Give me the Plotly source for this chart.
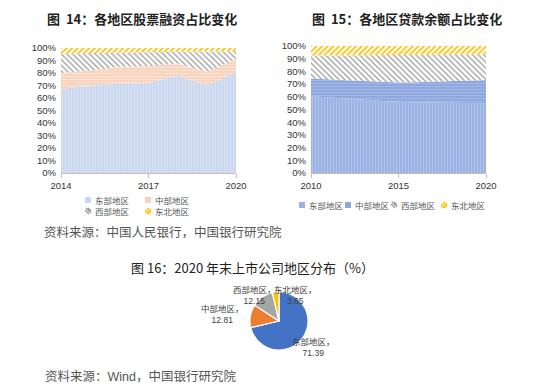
import plotly.graph_objects as go

# ---------------- data ----------------
regions = ["东部地区", "中部地区", "西部地区", "东北地区"]

stock_years = [2014, 2015, 2016, 2017, 2018, 2019, 2020]
stock_east = [67.5, 69.5, 71.5, 72.0, 78.0, 70.0, 80.5]
stock_central = [12.5, 12.5, 13.5, 13.5, 9.5, 11.0, 10.5]
stock_west = [15.5, 14.0, 11.5, 11.5, 9.5, 16.3, 6.5]
stock_northeast = [4.5, 4.0, 3.5, 3.0, 3.0, 2.7, 2.5]
stock_xticks = [2014, 2017, 2020]

loan_years = [2010, 2011, 2012, 2013, 2014, 2015, 2016, 2017, 2018, 2019, 2020]
loan_east = [60.5, 59.5, 58.5, 57.5, 56.5, 56.0, 55.8, 55.5, 55.3, 55.2, 55.0]
loan_central = [14.0, 14.5, 14.8, 15.0, 15.3, 15.2, 15.7, 16.5, 17.2, 17.7, 18.3]
loan_west = [18.0, 18.5, 19.3, 20.2, 21.0, 21.8, 21.6, 21.2, 20.8, 20.5, 20.2]
loan_northeast = [7.5, 7.5, 7.4, 7.3, 7.2, 7.0, 6.9, 6.8, 6.7, 6.6, 6.5]
loan_xticks = [2010, 2015, 2020]

pie_values = [71.39, 12.81, 12.15, 3.65]

yticks = [0, 10, 20, 30, 40, 50, 60, 70, 80, 90, 100]
ytick_labels = [f"{v}%" for v in yticks]

# ---------------- styling ----------------
W, H = 550, 389
OFF = 8  # the page body margin offsets the figure by 8px; positions below are page pixels
def px(x):
    return (x - OFF) / W
def py(y):
    return 1 - (y - OFF) / H

SANS = "Liberation Sans, Arial, Noto Sans CJK SC"
CJK = "Noto Sans CJK SC"

left_styles = [
    dict(bg="#cbd7ef", fg="#dbe4f5", shape="|", size=3, sol=0.3),
    dict(bg="#f8d4bf", fg="#fbe4d7", shape="-", size=3, sol=0.3),
    dict(bg="#ffffff", fg="#9a9a9a", shape="\\", size=4, sol=0.3),
    dict(bg="#ffffff", fg="#ffc000", shape="/", size=4, sol=0.45),
]
right_styles = [
    dict(bg="#9cb2e2", fg="#b3c5ec", shape="|", size=3, sol=0.3),
    dict(bg="#8ea8de", fg="#a7bbe8", shape="-", size=3, sol=0.3),
    dict(bg="#ffffff", fg="#9a9a9a", shape="\\", size=4, sol=0.3),
    dict(bg="#ffffff", fg="#ffc000", shape="/", size=4, sol=0.45),
]

fig = go.Figure()

def add_area(xs, ys, name, st, xa, ya, group):
    fig.add_trace(go.Scatter(
        x=xs, y=ys, name=name, mode="lines", stackgroup=group,
        line=dict(width=0), fillcolor=st["bg"],
        fillpattern=dict(shape=st["shape"], fgcolor=st["fg"], bgcolor=st["bg"],
                         size=st["size"], solidity=st["sol"], fillmode="replace"),
        xaxis=xa, yaxis=ya, showlegend=False, hoverinfo="skip"))

for name, ys, st in zip(regions, [stock_east, stock_central, stock_west, stock_northeast], left_styles):
    add_area(stock_years, ys, name, st, "x", "y", "a")
for name, ys, st in zip(regions, [loan_east, loan_central, loan_west, loan_northeast], right_styles):
    add_area(loan_years, ys, name, st, "x2", "y2", "b")

fig.add_trace(go.Pie(
    labels=regions, values=pie_values, sort=False, direction="clockwise", rotation=0,
    marker=dict(colors=["#4472c4", "#ed7d31", "#a5a5a5", "#ffc000"],
                line=dict(color="white", width=1.2)),
    textinfo="none", hoverinfo="label+value", showlegend=False,
    domain=dict(x=[px(250), px(308)], y=[py(350), py(292)])))

axis_common = dict(showgrid=False, zeroline=False, automargin=False)
xfont = dict(family=SANS, size=9.5, color="#333")
fig.update_layout(
    template="none",
    width=W, height=H, margin=dict(l=0, r=0, t=0, b=0, pad=0, autoexpand=False),
    paper_bgcolor="white", plot_bgcolor="white", showlegend=False,
    xaxis=dict(domain=[px(61), px(236)], range=[2014, 2020], tickvals=stock_xticks,
               ticktext=[str(v) for v in stock_xticks],
               showline=True, linecolor="#bfbfbf", ticks="outside", ticklen=4, tickcolor="#bfbfbf",
               tickfont=xfont, anchor="y", **axis_common),
    yaxis=dict(domain=[py(173), py(48)], range=[0, 100], tickvals=yticks, ticktext=ytick_labels,
               tickfont=xfont, anchor="x", ticks="", showline=False,
               ticklabelstandoff=4, **axis_common),
    xaxis2=dict(domain=[px(311), px(486)], range=[2010, 2020], tickvals=loan_xticks,
                ticktext=[str(v) for v in loan_xticks],
                showline=True, linecolor="#bfbfbf", ticks="outside", ticklen=4, tickcolor="#bfbfbf",
                tickfont=xfont, anchor="y2", **axis_common),
    yaxis2=dict(domain=[py(173), py(46)], range=[0, 100], tickvals=yticks, ticktext=ytick_labels,
                tickfont=xfont, anchor="x2", ticks="", showline=False,
                ticklabelstandoff=4, **axis_common),
)

annotations = []
shapes = []

def text(x, y, s, size, color="#333", bold=False, xanchor="center", family=CJK, align="left"):
    if bold:
        s = "<b>" + s + "</b>"
    annotations.append(dict(x=px(x), y=py(y), xref="paper", yref="paper", text=s,
                            showarrow=False, xanchor=xanchor, yanchor="middle", align=align,
                            font=dict(family=family, size=size, color=color)))

# titles
text(142, 18, "图  14：各地区股票融资占比变化", 13, "#222", bold=True)
text(407, 18, "图  15：各地区贷款余额占比变化", 13, "#222", bold=True)
text(42, 231, "资料来源：中国人民银行，中国银行研究院", 12.5, "#555", xanchor="left")
text(252, 267, "图 16：2020 年末上市公司地区分布（%）", 13, "#222")
text(43, 376, "资料来源：Wind，中国银行研究院", 12.5, "#555", xanchor="left", family=SANS)

# manual legends
def legend_icon(x, y, st, hatch):
    s = 6
    x0, x1 = x, x + s
    y0, y1 = y - s / 2, y + s / 2
    if not hatch:
        shapes.append(dict(type="rect", xref="paper", yref="paper",
                           x0=px(x0), x1=px(x1), y0=py(y1), y1=py(y0),
                           fillcolor=st["bg"], line=dict(width=0)))
    else:
        d = ""
        if st["shape"] == "\\":
            segs = [((x0, y0 + 2), (x0 + 4, y1)), ((x0 + 1, y0), (x1, y1 - 1)), ((x0 + 3, y0), (x1, y0 + 3))]
        else:
            segs = [((x0, y1 - 2), (x0 + 4, y0)), ((x0 + 1, y1), (x1, y0 + 1)), ((x0 + 3, y1), (x1, y1 - 3))]
        for (a, b), (c, e) in segs:
            d += f"M {px(a)} {py(b)} L {px(c)} {py(e)} "
        shapes.append(dict(type="path", xref="paper", yref="paper", path=d,
                           line=dict(color=st["fg"], width=1.3)))

# left legend: 2 columns x 2 rows, one text block per column
left_leg = [(85, 200), (145, 200), (85, 211), (145, 211)]
for (x, y), st, hatch in zip(left_leg, left_styles, [False, False, True, True]):
    legend_icon(x, y, st, hatch)
for col in range(2):
    x = left_leg[col][0]
    text(x + 8, 205.5, regions[col] + "<br>" + regions[col + 2], 8.5, "#595959", xanchor="left")

right_leg = [(299, 205), (345, 205), (391, 205), (441, 205)]
for (x, y), name, st, hatch in zip(right_leg, regions, right_styles, [False, False, True, True]):
    legend_icon(x, y, st, hatch)
    text(x + 8, y, name, 8.5, "#595959", xanchor="left")

# pie labels
pie_label_pos = [(313, 347), (222, 314), (254, 295), (295, 295)]
for (x, y), name, v in zip(pie_label_pos, regions, pie_values):
    annotations.append(dict(x=px(x), y=py(y), xref="paper", yref="paper",
                            text=f"{name}，<br>{v:.2f}", showarrow=False,
                            xanchor="center", yanchor="middle", align="center",
                            font=dict(family=SANS, size=8.5, color="#404040")))

fig.update_layout(annotations=annotations, shapes=shapes)
fig.write_html("out.html")
